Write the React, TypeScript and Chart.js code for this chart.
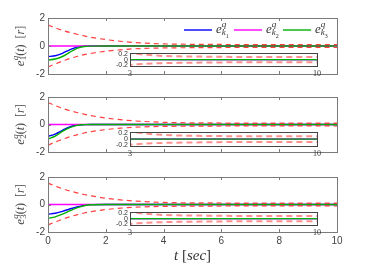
import { useEffect, useRef } from "react";
import { Chart, registerables } from "chart.js";
Chart.register(...registerables);

// ---------- data ----------
const times = [0, 0.25, 0.5, 0.75, 1, 1.25, 1.5, 2, 2.5, 3, 4, 5, 6, 7, 8, 9, 10];
const xTicks = [0, 2, 4, 6, 8, 10];
const yTicks = [-2, 0, 2];
const insetXTicks = [3, 10];
const insetYTicks = [-0.2, 0, 0.2];
const legendLabels = ["1", "2", "3"];
const panelIndex = ["1", "2", "3"];

const blue1 = [-0.76, -0.7, -0.52, -0.27, -0.08, -0.02, 0, 0, 0, 0, 0, 0, 0, 0, 0, 0, 0];
const green1 = [-1.0, -0.93, -0.75, -0.46, -0.17, -0.04, -0.01, 0, 0, 0, 0, 0, 0, 0, 0, 0, 0];
const magenta1 = [0, 0, 0, 0, 0, 0, 0, 0, 0, 0, 0, 0, 0, 0, 0, 0, 0];
const upper1 = [1.5, 1.3, 1.12, 0.97, 0.84, 0.72, 0.62, 0.46, 0.34, 0.25, 0.15, 0.12, 0.11, 0.1, 0.1, 0.1, 0.1];
const lower1 = [-1.5, -1.28, -1.08, -0.9, -0.75, -0.62, -0.52, -0.37, -0.27, -0.2, -0.14, -0.12, -0.11, -0.1, -0.1, -0.1, -0.1];

const blue2 = [-0.86, -0.7, -0.42, -0.17, -0.04, -0.01, 0, 0, 0, 0, 0, 0, 0, 0, 0, 0, 0];
const green2 = [-1.05, -0.85, -0.5, -0.22, -0.06, -0.01, 0, 0, 0, 0, 0, 0, 0, 0, 0, 0, 0];
const magenta2 = [0, 0, 0, 0, 0, 0, 0, 0, 0, 0, 0, 0, 0, 0, 0, 0, 0];
const upper2 = [1.6, 1.38, 1.18, 1.01, 0.87, 0.75, 0.64, 0.47, 0.35, 0.26, 0.16, 0.12, 0.11, 0.1, 0.1, 0.1, 0.1];
const lower2 = [-1.5, -1.28, -1.08, -0.9, -0.75, -0.62, -0.52, -0.37, -0.27, -0.2, -0.14, -0.12, -0.11, -0.1, -0.1, -0.1, -0.1];

const blue3 = [-0.7, -0.64, -0.5, -0.33, -0.17, -0.06, -0.01, 0, 0, 0, 0, 0, 0, 0, 0, 0, 0];
const green3 = [-1.0, -0.9, -0.7, -0.47, -0.25, -0.09, -0.02, 0, 0, 0, 0, 0, 0, 0, 0, 0, 0];
const magenta3 = [0, 0, 0, 0, 0, 0, 0, 0, 0, 0, 0, 0, 0, 0, 0, 0, 0];
const upper3 = [1.56, 1.34, 1.15, 0.99, 0.85, 0.73, 0.63, 0.46, 0.34, 0.25, 0.15, 0.12, 0.11, 0.1, 0.1, 0.1, 0.1];
const lower3 = [-1.48, -1.27, -1.07, -0.9, -0.75, -0.62, -0.52, -0.37, -0.27, -0.2, -0.14, -0.12, -0.11, -0.1, -0.1, -0.1, -0.1];

const panels = [
  { blue: blue1, green: green1, magenta: magenta1, upper: upper1, lower: lower1 },
  { blue: blue2, green: green2, magenta: magenta2, upper: upper2, lower: lower2 },
  { blue: blue3, green: green3, magenta: magenta3, upper: upper3, lower: lower3 },
];

// ---------- layout / style ----------
const W = 373;
const H = 264;
const PLOT_L = 48;
const PLOT_R = 337;
const PANEL_BOX = [
  { top: 18, bottom: 74, inTop: 53, inBottom: 66 },
  { top: 97, bottom: 152, inTop: 132, inBottom: 146 },
  { top: 177, bottom: 232, inTop: 212, inBottom: 225 },
];
const IN_L = 130;
const IN_R = 317;
const BLUE = "#0000ff";
const MAGENTA = "#ff00ff";
const GREEN = "#00b000";
const RED = "rgba(255,30,30,0.85)";
const RED_IN = "rgba(255,70,70,0.6)";
const FRAME = "#7a7a7a";
const TXT = "#444";
const SERIF = "'Liberation Serif', 'DejaVu Serif', serif";
const SANS = "'Liberation Sans', 'DejaVu Sans', sans-serif";

type Seg = { t: string; f: string; dy?: number; adv?: boolean };

function segWidth(ctx: CanvasRenderingContext2D, segs: Seg[]) {
  let w = 0;
  for (const s of segs) {
    ctx.font = s.f;
    if (s.adv !== false) w += ctx.measureText(s.t).width;
  }
  return w;
}
function drawSegs(ctx: CanvasRenderingContext2D, segs: Seg[], x: number, y: number) {
  let cx = x;
  for (const s of segs) {
    ctx.font = s.f;
    ctx.fillText(s.t, cx, y + (s.dy || 0));
    if (s.adv !== false) cx += ctx.measureText(s.t).width;
  }
}

const xy = (vals: number[]) => times.map((t, i) => ({ x: t, y: vals[i] }));

function datasetsFor(p: (typeof panels)[number], inset: boolean) {
  const redStyle = inset
    ? { borderColor: RED_IN, borderWidth: 2, borderDash: [6, 4] }
    : { borderColor: RED, borderWidth: 1.2, borderDash: [5, 4] };
  const common = { pointRadius: 0, cubicInterpolationMode: "monotone" as const, fill: false };
  return [
    { ...common, ...redStyle, data: xy(p.upper) },
    { ...common, ...redStyle, data: xy(p.lower) },
    { ...common, borderColor: GREEN, borderWidth: 1.4, data: xy(p.green) },
    { ...common, borderColor: MAGENTA, borderWidth: 1.4, data: xy(p.magenta) },
    { ...common, borderColor: BLUE, borderWidth: 1.4, data: xy(p.blue) },
  ];
}

function mainChart(canvas: HTMLCanvasElement, pi: number) {
  const box = PANEL_BOX[pi];
  const showX = pi === 2;
  const YW = 20;
  const XH = 16;
  const p = panels[pi];
  const framePlugin = {
    id: "frame" + pi,
    afterDraw(chart: any) {
      const ctx: CanvasRenderingContext2D = chart.ctx;
      const a = chart.chartArea;
      const xs = chart.scales.x;
      const ys = chart.scales.y;
      ctx.save();
      ctx.strokeStyle = FRAME;
      ctx.lineWidth = 1;
      ctx.strokeRect(Math.round(a.left) + 0.5, Math.round(a.top) + 0.5, Math.round(a.right - a.left), Math.round(a.bottom - a.top));
      ctx.beginPath();
      for (const v of xTicks) {
        const px = Math.round(xs.getPixelForValue(v)) + 0.5;
        ctx.moveTo(px, a.bottom);
        ctx.lineTo(px, a.bottom - 3);
        ctx.moveTo(px, a.top);
        ctx.lineTo(px, a.top + 3);
      }
      for (const v of yTicks) {
        const py = Math.round(ys.getPixelForValue(v)) + 0.5;
        ctx.moveTo(a.left, py);
        ctx.lineTo(a.left + 3, py);
        ctx.moveTo(a.right, py);
        ctx.lineTo(a.right - 3, py);
      }
      ctx.stroke();

      // y title
      ctx.fillStyle = "#444";
      ctx.textBaseline = "middle";
      ctx.textAlign = "left";
      const segs: Seg[] = [
        { t: "e", f: `italic 13px ${SERIF}` },
        { t: "q", f: `italic 9px ${SERIF}`, dy: -5, adv: false },
        { t: panelIndex[pi], f: `9px ${SERIF}`, dy: 3 },
        { t: "(", f: `12px ${SERIF}` },
        { t: "t", f: `italic 12px ${SERIF}` },
        { t: ")  [", f: `12px ${SERIF}` },
        { t: "r", f: `italic 12px ${SERIF}` },
        { t: "]", f: `12px ${SERIF}` },
      ];
      const w = segWidth(ctx, segs);
      ctx.save();
      ctx.translate(21, (a.top + a.bottom) / 2);
      ctx.rotate(-Math.PI / 2);
      drawSegs(ctx, segs, -w / 2, 0);
      ctx.restore();

      // legend on first panel
      if (pi === 0) {
        const colors = [BLUE, MAGENTA, GREEN];
        const starts = [184, 234, 283];
        const ly = 30;
        for (let i = 0; i < 3; i++) {
          ctx.strokeStyle = colors[i];
          ctx.lineWidth = 1.4;
          ctx.beginPath();
          ctx.moveTo(starts[i], ly);
          ctx.lineTo(starts[i] + 28, ly);
          ctx.stroke();
          ctx.fillStyle = "#333";
          drawSegs(
            ctx,
            [
              { t: "e", f: `italic 13px ${SERIF}` },
              { t: "q", f: `italic 9px ${SERIF}`, dy: -5, adv: false },
              { t: "k", f: `italic 9px ${SERIF}`, dy: 3 },
              { t: legendLabels[i], f: `6px ${SERIF}`, dy: 6 },
            ],
            starts[i] + 32,
            ly
          );
        }
      }

      // x title
      if (showX) {
        ctx.fillStyle = "#333";
        ctx.textBaseline = "alphabetic";
        const xs2: Seg[] = [
          { t: "t", f: `italic 15px ${SERIF}` },
          { t: " [", f: `15px ${SERIF}` },
          { t: "sec", f: `italic 15px ${SERIF}` },
          { t: "]", f: `15px ${SERIF}` },
        ];
        const tw = segWidth(ctx, xs2);
        drawSegs(ctx, xs2, (a.left + a.right) / 2 - tw / 2, 260);
      }
      ctx.restore();
    },
  };
  return new Chart(canvas, {
    type: "line",
    data: { datasets: datasetsFor(p, false) as any },
    options: {
      animation: false,
      responsive: false,
      events: [],
      layout: {
        padding: { left: PLOT_L - YW, right: W - PLOT_R, top: box.top, bottom: H - box.bottom - XH },
      },
      plugins: { legend: { display: false }, tooltip: { enabled: false } },
      scales: {
        x: {
          type: "linear",
          min: 0,
          max: 10,
          afterBuildTicks: (s: any) => {
            s.ticks = xTicks.map((v) => ({ value: v }));
          },
          afterFit: (s: any) => {
            s.height = XH;
          },
          grid: { display: false, drawTicks: false },
          border: { display: false },
          ticks: { display: showX, color: TXT, font: { family: SANS, size: 10 }, padding: 3, maxRotation: 0, autoSkip: false },
        },
        y: {
          type: "linear",
          min: -2,
          max: 2,
          afterBuildTicks: (s: any) => {
            s.ticks = yTicks.map((v) => ({ value: v }));
          },
          afterFit: (s: any) => {
            s.width = YW;
          },
          grid: { display: false, drawTicks: false },
          border: { display: false },
          ticks: { color: TXT, font: { family: SANS, size: 10 }, padding: 3, autoSkip: false },
        },
      },
    },
    plugins: [framePlugin],
  } as any);
}

const IN_CANVAS_L = 90;
const IN_CANVAS_W = 240;
const IN_CANVAS_H = 36;
const IN_TOP_OFF = 6;

function insetChart(canvas: HTMLCanvasElement, pi: number) {
  const box = PANEL_BOX[pi];
  const YW = 22;
  const XH = 12;
  const inH = box.inBottom - box.inTop;
  const p = panels[pi];
  const insetPlugin = {
    id: "inset" + pi,
    beforeDatasetsDraw(chart: any) {
      const ctx: CanvasRenderingContext2D = chart.ctx;
      const a = chart.chartArea;
      ctx.save();
      ctx.fillStyle = "#fff";
      ctx.fillRect(a.left, a.top, a.right - a.left, a.bottom - a.top);
      ctx.restore();
    },
    afterDraw(chart: any) {
      const ctx: CanvasRenderingContext2D = chart.ctx;
      const a = chart.chartArea;
      ctx.save();
      ctx.strokeStyle = "#444";
      ctx.lineWidth = 1;
      ctx.strokeRect(Math.round(a.left) + 0.5, Math.round(a.top) + 0.5, Math.round(a.right - a.left), Math.round(a.bottom - a.top));
      ctx.restore();
    },
  };
  return new Chart(canvas, {
    type: "line",
    data: { datasets: datasetsFor(p, true) as any },
    options: {
      animation: false,
      responsive: false,
      events: [],
      layout: {
        padding: {
          left: IN_L - IN_CANVAS_L - YW,
          right: IN_CANVAS_L + IN_CANVAS_W - IN_R,
          top: IN_TOP_OFF,
          bottom: IN_CANVAS_H - IN_TOP_OFF - inH - XH,
        },
      },
      plugins: { legend: { display: false }, tooltip: { enabled: false } },
      scales: {
        x: {
          type: "linear",
          min: 3,
          max: 10,
          afterBuildTicks: (s: any) => {
            s.ticks = insetXTicks.map((v) => ({ value: v }));
          },
          afterFit: (s: any) => {
            s.height = XH;
          },
          grid: { display: false, drawTicks: false },
          border: { display: false },
          ticks: { color: "#333", font: { family: SERIF, size: 8 }, padding: 3, maxRotation: 0, autoSkip: false },
        },
        y: {
          type: "linear",
          min: -0.24,
          max: 0.24,
          afterBuildTicks: (s: any) => {
            s.ticks = insetYTicks.map((v) => ({ value: v }));
          },
          afterFit: (s: any) => {
            s.width = YW;
          },
          grid: { display: false, drawTicks: false },
          border: { display: false },
          ticks: { color: "#333", font: { family: SANS, size: 7 }, padding: 2, autoSkip: false },
        },
      },
    },
    plugins: [insetPlugin],
  } as any);
}

export default function App() {
  const mainRefs = [useRef<HTMLCanvasElement>(null), useRef<HTMLCanvasElement>(null), useRef<HTMLCanvasElement>(null)];
  const insetRefs = [useRef<HTMLCanvasElement>(null), useRef<HTMLCanvasElement>(null), useRef<HTMLCanvasElement>(null)];
  useEffect(() => {
    const charts: Chart[] = [];
    for (let i = 0; i < 3; i++) {
      const m = mainRefs[i].current;
      if (m) charts.push(mainChart(m, i));
    }
    for (let i = 0; i < 3; i++) {
      const c = insetRefs[i].current;
      if (c) charts.push(insetChart(c, i));
    }
    return () => charts.forEach((c) => c.destroy());
  }, []);
  return (
    <div style={{ position: "absolute", left: 0, top: 0, width: W, height: H, background: "#fff", overflow: "hidden" }}>
      {mainRefs.map((r, i) => (
        <canvas key={"m" + i} ref={r} width={W} height={H} style={{ position: "absolute", left: 0, top: 0 }} />
      ))}
      {insetRefs.map((r, i) => (
        <canvas
          key={"i" + i}
          ref={r}
          width={IN_CANVAS_W}
          height={IN_CANVAS_H}
          style={{ position: "absolute", left: IN_CANVAS_L, top: PANEL_BOX[i].inTop - IN_TOP_OFF }}
        />
      ))}
    </div>
  );
}
